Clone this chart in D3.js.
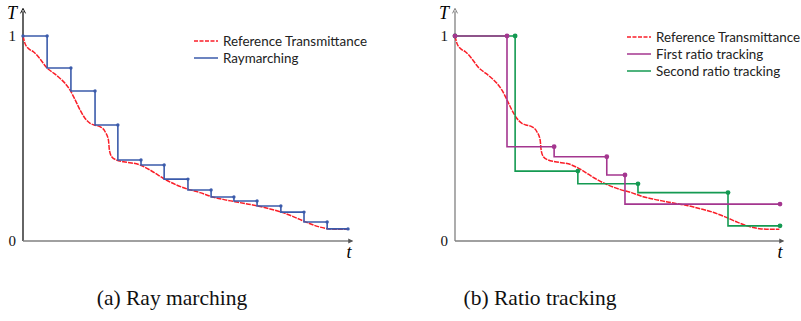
<!DOCTYPE html>
<html><head><meta charset="utf-8">
<script src="https://cdn.jsdelivr.net/npm/d3@7/dist/d3.min.js"></script>
<style>body{margin:0;background:#fff}svg{display:block}</style>
</head><body>
<script>
// Reference transmittance curve (t normalized 0..1, T)
const refT = [0,0.006,0.016,0.032,0.047,0.062,0.073,0.088,0.108,0.129,0.144,0.160,0.175,0.190,0.206,0.218,0.236,0.252,0.262,0.265,0.272,0.287,0.308,0.359,0.390,0.430,0.471,0.507,0.543,0.579,0.614,0.650,0.676,0.717,0.758,0.794,0.829,0.870,0.906,0.942,0.972,0.998];
const refV = [1,0.964,0.940,0.923,0.899,0.867,0.845,0.826,0.801,0.769,0.737,0.688,0.639,0.599,0.574,0.566,0.558,0.533,0.493,0.444,0.411,0.395,0.387,0.371,0.346,0.306,0.273,0.252,0.236,0.216,0.203,0.192,0.184,0.172,0.156,0.140,0.119,0.091,0.070,0.059,0.057,0.057];
// Ray marching: sample positions and step values
const rmT = [0,0.074,0.147,0.221,0.291,0.362,0.433,0.506,0.577,0.647,0.718,0.791,0.862,0.933,0.997];
const rmV = [1.0,0.844,0.732,0.566,0.395,0.371,0.302,0.249,0.215,0.195,0.171,0.141,0.093,0.059];
// First ratio tracking
const r1T = [0,0.160,0.305,0.467,0.523,1.0];
const r1V = [1.0,0.460,0.411,0.322,0.180];
// Second ratio tracking
const r2T = [0,0.185,0.378,0.563,0.840,1.0];
const r2V = [1.0,0.341,0.279,0.236,0.074];

const legendA = ["Reference Transmittance","Raymarching"];
const legendB = ["Reference Transmittance","First ratio tracking","Second ratio tracking"];
const captions = ["(a) Ray marching","(b) Ratio tracking"];

const RED="#fa1e28", BLUE="#3b5bab", PURPLE="#a4368f", GREEN="#149a52";

const svg = d3.select("body").append("svg").attr("width",801).attr("height",321);
const y = d3.scaleLinear([0,1],[241,36]);

function panel(x0, x1, yAxisColor){
  const x = d3.scaleLinear([0,1],[x0,x1]);
  const g = svg.append("g");
  g.append("line").attr("x1",x(0)).attr("x2",x(0)).attr("y1",y(0)).attr("y2",y(1.13)+2)
    .attr("stroke",yAxisColor).attr("stroke-width",1.3);
  g.append("path").attr("d",`M${x(0)-2.5},${y(1.13)+4}L${x(0)},${y(1.13)-1}L${x(0)+2.5},${y(1.13)+4}`)
    .attr("fill","none").attr("stroke",yAxisColor).attr("stroke-width",1);
  g.append("line").attr("x1",x(0)).attr("x2",x(1.01)).attr("y1",y(0)).attr("y2",y(0))
    .attr("stroke","#808080").attr("stroke-width",1.3);
  g.append("path").attr("d",`M${x(1.01)-4},${y(0)-2.5}L${x(1.01)+1},${y(0)}L${x(1.01)-4},${y(0)+2.5}Z`)
    .attr("fill","#555");
  const ax = d3.axisLeft(y).tickValues([0,1]).tickSize(0).tickPadding(7).tickFormat(d3.format("d"));
  const ag = g.append("g").attr("transform",`translate(${x(0)},0)`).call(ax);
  ag.select(".domain").remove();
  ag.selectAll("text").attr("font-family","Liberation Serif, serif").attr("font-size",15).attr("fill","#111");
  g.append("text").attr("x",x(0)-11).attr("y",19).attr("text-anchor","middle")
    .attr("font-family","Liberation Serif, serif").attr("font-style","italic").attr("font-size",18).text("T");
  g.append("text").attr("x",x(1.0)).attr("y",258).attr("text-anchor","middle")
    .attr("font-family","Liberation Serif, serif").attr("font-style","italic").attr("font-size",18).text("t");
  return {x,g};
}

function stepData(ts, vs){ const d = vs.map((v,i)=>({t:ts[i],v})); d.push({t:ts[ts.length-1],v:vs[vs.length-1]}); return d; }
function dotData(ts, vs){ const d=[{t:ts[0],v:vs[0]}]; vs.forEach((v,i)=>d.push({t:ts[i+1],v})); return d; }

function drawRef(p){
  const line = d3.line().x((d,i)=>p.x(refT[i])).y(d=>y(d)).curve(d3.curveMonotoneX);
  p.g.append("path").attr("d",line(refV)).attr("fill","none").attr("stroke",RED)
    .attr("stroke-width",1.5).attr("stroke-dasharray","5,1");
}
function drawStep(p, ts, vs, color, w, r){
  const line = d3.line().x(d=>p.x(d.t)).y(d=>y(d.v)).curve(d3.curveStepAfter);
  p.g.append("path").attr("d",line(stepData(ts,vs))).attr("fill","none").attr("stroke",color).attr("stroke-width",w);
  p.g.selectAll(null).data(dotData(ts,vs)).join("circle").attr("cx",d=>p.x(d.t)).attr("cy",d=>y(d.v)).attr("r",r).attr("fill",color);
}
function legend(x0, y0, labels, colors, dashed){
  labels.forEach((l,i)=>{
    const yy = y0 + i*17;
    svg.append("line").attr("x1",x0).attr("x2",x0+24).attr("y1",yy).attr("y2",yy)
      .attr("stroke",colors[i]).attr("stroke-width",1.5).attr("stroke-dasharray",dashed[i]?"4,1.5":null);
    svg.append("text").attr("x",x0+29).attr("y",yy+4.5).attr("font-family","Lato, 'Noto Sans', sans-serif")
      .attr("font-size",13.4).attr("fill","#222").text(l);
  });
}

const A = panel(23, 349, "#111");
drawRef(A);
drawStep(A, rmT, rmV, BLUE, 1.6, 1.7);
legend(194, 41, legendA, [RED,BLUE], [true,false]);

const B = panel(455, 780, "#808080");
drawRef(B);
drawStep(B, r2T, r2V, GREEN, 1.6, 2.4);
drawStep(B, r1T, r1V, PURPLE, 1.6, 2.4);
legend(627, 37, legendB, [RED,PURPLE,GREEN], [true,false,false]);

svg.selectAll(null).data(captions).join("text")
  .attr("x",(d,i)=>[172,540][i]).attr("y",305).attr("text-anchor","middle")
  .attr("font-family","Liberation Serif, serif").attr("font-size",21.5).attr("fill","#111").text(d=>d);
</script>
</body></html>
